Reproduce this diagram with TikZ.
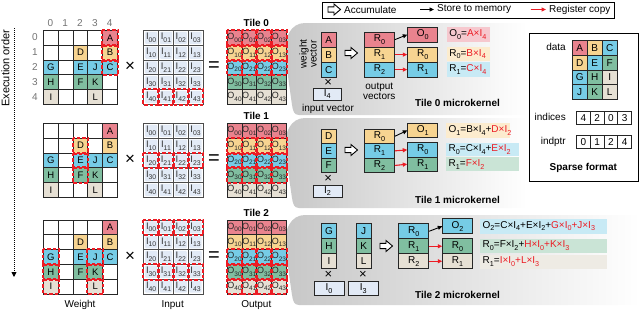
\documentclass[tikz,border=0pt]{standalone}
\usepackage{fontspec}
\usepackage{graphicx}
\setmainfont{Liberation Sans}
\usetikzlibrary{arrows.meta,calc}
\definecolor{cR}{RGB}{233,131,142}
\definecolor{cO}{RGB}{247,212,145}
\definecolor{cB}{RGB}{118,204,230}
\definecolor{cG}{RGB}{128,190,160}
\definecolor{cE}{RGB}{230,224,212}
\definecolor{cI}{RGB}{226,234,246}
\definecolor{lR}{RGB}{246,200,206}
\definecolor{lO}{RGB}{252,236,206}
\definecolor{lB}{RGB}{200,234,245}
\definecolor{lG}{RGB}{202,228,214}
\definecolor{lE}{RGB}{238,235,228}
\definecolor{hlred}{RGB}{236,28,36}
\newcommand{\sbs}[1]{\raisebox{-0.28em}{\scalebox{0.72}{#1}}}
\newcommand{\redt}[1]{\textcolor{hlred}{#1}}
\newcommand{\fsz}[1]{\fontsize{#1}{#1}\selectfont}
\newcommand{\hollowarr}[3]{\coordinate (#1) at (#2,#3);
  \draw[hollow] ($(#1)+(-6,-2.6)$) -- ++(6,0) -- ++(0,-2.9) -- ++(6.5,5.5) -- ++(-6.5,5.5) -- ++(0,-2.9) -- ++(-6,0) -- cycle;}
\tikzset{
 wc/.style={draw=black!85, line width=0.9pt, minimum width=14.8pt, minimum height=14.8pt, inner sep=0pt, anchor=north west, font=\fsz{9.5}},
 ic/.style={wc, fill=white, draw=black!70, font=\fsz{9.5}, text=black!80,
   path picture={\fill[cI, rounded corners=1pt] ([shift={(1.3pt,-1.3pt)}]path picture bounding box.north west) rectangle ([shift={(-1.3pt,1.3pt)}]path picture bounding box.south east);}},
 oc/.style={wc, font=\fsz{9}, text=black!85},
 hlbox/.style={draw=hlred, line width=2pt, dash pattern=on 3.5pt off 2pt},
 vc/.style={draw=black!85, line width=0.9pt, minimum width=15pt, minimum height=15pt, inner sep=0pt, anchor=north west, font=\fsz{10}},
 rc/.style={vc, minimum width=30pt},
 inb/.style={draw=black!85, line width=0.9pt, fill=cI, minimum height=12pt, inner sep=0pt, font=\fsz{10}},
 fmlbox/.style={anchor=north west, minimum height=15pt, inner xsep=2.5pt, inner ysep=0pt, align=left, font=\fsz{10}},
 lbl/.style={font=\fsz{10}, inner sep=0pt},
 ttl/.style={font=\bfseries\fsz{10}, inner sep=0pt},
 storearr/.style={-{Triangle[length=4.5pt,width=4pt]}, line width=0.9pt},
 copyarr/.style={storearr, draw=hlred, fill=hlred, line width=1.1pt},
 hollow/.style={line width=0.9pt, fill=white, draw=black},
 panel/.style={left color=black!22, right color=white},
 bigsym/.style={inner sep=0pt},
}
\begin{document}
\begin{tikzpicture}[x=1pt,y=-1pt]
\useasboundingbox (0,0) rectangle (640,311);
% panels
\shade[panel] (305,23) -- (527,23) -- (527,115) -- (299,115) .. controls (294,115) and (293,111) .. (292,105) -- (285,55) .. controls (284,37) and (291,23) .. (305,23) -- cycle;
\shade[panel] (305,118) -- (527,118) -- (527,208) -- (299,208) .. controls (294,208) and (293,204) .. (292,198) -- (285,150) .. controls (284,132) and (291,118) .. (305,118) -- cycle;
\shade[panel] (305,215) -- (640,215) -- (640,305) -- (299,305) .. controls (294,305) and (293,301) .. (292,295) -- (285,247) .. controls (284,229) and (291,215) .. (305,215) -- cycle;

% execution order
\node[lbl, rotate=90, font=\fsz{11}] (exo) at (5.5,68) {Execution order};
\coordinate (ex0) at (14,28);
\coordinate (ex1) at (14,277);
\draw[line width=0.9pt, dash pattern=on 1pt off 1pt, -{Triangle[length=5pt,width=5pt]}] (ex0) -- (ex1);

% labels tile 0
\foreach \ci in {0,...,4} \node[lbl, text=black!55] (cl\ci) at ({50.4+\ci*14.8},23) {\ci};
\foreach \ri in {0,...,4} \node[lbl, text=black!55] (rl\ri) at (35,{37.4+\ri*14.8}) {\ri};

% matrices
\foreach \ti/\ty in {0/30,1/123,2/219.5}{
  \foreach \ri in {0,...,4}{
    \foreach \ci in {0,...,4}{
      \node[wc] (w\ti-\ri-\ci) at ({43+\ci*14.8},{\ty+\ri*14.8}) {};
    }
    \foreach \ci in {0,...,3}{
      \node[ic] (i\ti-\ri-\ci) at ({143.3+\ci*14.8},{\ty+\ri*14.8}) {I\sbs{\ri\ci}};
    }
  }
  \foreach \ri/\col in {0/cR,1/cO,2/cB,3/cG,4/cE}{
    \foreach \ci in {0,...,3}{
      \node[oc, fill=\col] (o\ti-\ri-\ci) at ({226.7+\ci*14.8},{\ty+\ri*14.8}) {O\sbs{\ri\ci}};
    }
  }
  \foreach \ri/\ci/\col/\lab in {0/4/cR/A,1/2/cO/D,1/4/cO/B,2/0/cB/G,2/2/cB/E,2/3/cB/J,2/4/cB/C,3/0/cG/H,3/2/cG/F,3/3/cG/K,4/0/cE/I,4/3/cE/L}{
    \node[wc, fill=\col] (w\ti-\ri-\ci) at ({43+\ci*14.8},{\ty+\ri*14.8}) {\lab};
  }
  \node[bigsym, font=\fsz{17}] (times\ti) at (130,{\ty+37}) {×};
  \node[bigsym, font=\fsz{20}] (eq\ti) at (214,{\ty+37}) {=};
  \node[ttl] (tile\ti) at (256.3,{\ty-7}) {Tile \ti};
}
% highlights
\foreach \n in {w0-0-4,w0-1-4,w0-2-4,w1-1-2,w1-2-2,w1-3-2,w2-2-0,w2-3-0,w2-4-0,w2-2-3,w2-3-3,w2-4-3}
  \draw[hlbox] (\n.north west) rectangle (\n.south east);
\foreach \ti/\ri in {0/4,1/2,2/0,2/3}
  \foreach \ci in {0,...,3}
    \draw[hlbox] (i\ti-\ri-\ci.north west) rectangle (i\ti-\ri-\ci.south east);
\foreach \ti/\ri in {0/0,0/1,0/2,1/1,1/2,1/3,2/2,2/3,2/4}
  \foreach \ci in {0,...,3}
    \draw[hlbox] (o\ti-\ri-\ci.north west) rectangle (o\ti-\ri-\ci.south east);

\node[lbl] (wl) at (80,305) {Weight};
\node[lbl] (il) at (172.7,305) {Input};
\node[lbl] (ol) at (256.3,305) {Output};

% legend
\node[draw, line width=0.9pt, minimum width=292pt, minimum height=16pt, inner sep=0pt, anchor=north west] (legend) at (322,1.5) {};
\hollowarr{lacc0}{334}{9.5}
\node[lbl, anchor=west] (lacc) at (344,9.5) {Accumulate};
\coordinate (ls0) at (420,9.5);
\coordinate (ls1) at (434,9.5);
\draw[storearr] (ls0) -- (ls1);
\node[lbl, anchor=west] (lst) at (437,9.5) {Store to memory};
\coordinate (lc0) at (530.5,9.5);
\coordinate (lc1) at (546,9.5);
\draw[copyarr] (lc0) -- (lc1);
\node[lbl, anchor=west] (lcp) at (549,9.5) {Register copy};

% ---- panel 0
\node[lbl, rotate=90, align=center] (wv0) at (308,54) {weight\\vector};
\node[vc, fill=cR] (k0a) at (320.7,31.7) {A};
\node[vc, fill=cO] (k0b) at (320.7,46.7) {B};
\node[vc, fill=cB] (k0c) at (320.7,61.7) {C};
\node[bigsym, font=\fsz{13}] (k0x) at (328.2,83) {×};
\node[inb, minimum width=28.7pt] (k0in) at (327.3,94) {I\sbs{4}};
\node[lbl] (k0inl) at (328,108.5) {input vector};
\hollowarr{k0acc}{351}{53}
\node[rc, fill=cR] (k0r0) at (364,31.7) {R\sbs{0}};
\node[rc, fill=cO] (k0r1) at (364,46.7) {R\sbs{1}};
\node[rc, fill=cB] (k0r2) at (364,61.7) {R\sbs{2}};
\node[lbl, align=center] (k0ov) at (379.3,91) {output\\vectors};
\node[rc, fill=cR] (k0o) at (407.3,26.7) {O\sbs{0}};
\node[rc, fill=cO] (k0s0) at (407.3,46.7) {R\sbs{0}};
\node[rc, fill=cB] (k0s1) at (407.3,61.7) {R\sbs{1}};
\draw[storearr] (k0r0.east) -- (k0o.west);
\draw[copyarr] (k0r1.east) -- (k0s0.west);
\draw[copyarr] (k0r2.east) -- (k0s1.west);
\node[fmlbox, fill=lR, text width=37.6pt] (k0f0) at (446.7,26.7) {O\sbs{0}=\redt{A×I\sbs{4}}};
\node[fmlbox, fill=lO, text width=37.6pt, minimum height=14.5pt] (k0f1) at (446.7,46.7) {R\sbs{0}=\redt{B×I\sbs{4}}};
\node[fmlbox, fill=lB, text width=37.6pt, minimum height=14.5pt] (k0f2) at (446.7,62.2) {R\sbs{1}=\redt{C×I\sbs{4}}};
\node[ttl] (k0t) at (457.5,103) {Tile 0 microkernel};

% ---- panel 1
\node[vc, fill=cO, minimum height=14.6pt] (k1a) at (320.7,128.5) {D};
\node[vc, fill=cB, minimum height=14.6pt] (k1b) at (320.7,143.1) {E};
\node[vc, fill=cG, minimum height=14.6pt] (k1c) at (320.7,157.7) {F};
\node[bigsym, font=\fsz{13}] (k1x) at (328.2,179) {×};
\node[inb, minimum width=29pt] (k1in) at (327.5,191) {I\sbs{2}};
\hollowarr{k1acc}{351}{150}
\node[rc, fill=cO, minimum height=14.6pt] (k1r0) at (364,128.5) {R\sbs{0}};
\node[rc, fill=cB, minimum height=14.6pt] (k1r1) at (364,143.1) {R\sbs{1}};
\node[rc, fill=cG, minimum height=14.6pt] (k1r2) at (364,157.7) {R\sbs{2}};
\node[rc, fill=cO, minimum height=14.6pt] (k1o) at (407.3,122.7) {O\sbs{1}};
\node[rc, fill=cB, minimum height=14.3pt] (k1s0) at (407.3,142.3) {R\sbs{0}};
\node[rc, fill=cG, minimum height=14.3pt] (k1s1) at (407.3,156.6) {R\sbs{1}};
\draw[storearr] (k1r0.east) -- (k1o.west);
\draw[copyarr] (k1r1.east) -- (k1s0.west);
\draw[copyarr] (k1r2.east) -- (k1s1.west);
\node[fmlbox, fill=lO, text width=59pt, minimum height=14.6pt] (k1f0) at (446,122.7) {O\sbs{1}=B×I\sbs{4}+\redt{D×I\sbs{2}}};
\node[fmlbox, fill=lB, text width=68pt, minimum height=13.8pt] (k1f1) at (446,142.3) {R\sbs{0}=C×I\sbs{4}+\redt{E×I\sbs{2}}};
\node[fmlbox, fill=lG, text width=68pt, minimum height=14pt] (k1f2) at (446,157.2) {R\sbs{1}=\redt{F×I\sbs{2}}};
\node[ttl] (k1t) at (457.5,200) {Tile 1 microkernel};

% ---- panel 2
\node[vc, fill=cB, minimum height=14.8pt] (k2a) at (321,223.3) {G};
\node[vc, fill=cG, minimum height=14.8pt] (k2b) at (321,238.1) {H};
\node[vc, fill=cE, minimum height=14.8pt] (k2c) at (321,252.9) {I};
\node[vc, fill=cB, minimum height=14.8pt] (k2d) at (355.7,223.3) {J};
\node[vc, fill=cG, minimum height=14.8pt] (k2e) at (355.7,238.1) {K};
\node[vc, fill=cE, minimum height=14.8pt] (k2f) at (355.7,252.9) {L};
\node[bigsym, font=\fsz{13}] (k2x0) at (328.5,275) {×};
\node[bigsym, font=\fsz{13}] (k2x1) at (363,275) {×};
\node[inb, minimum width=30pt, minimum height=14pt] (k2in0) at (329,288.7) {I\sbs{0}};
\node[inb, minimum width=30pt, minimum height=14pt] (k2in1) at (363.3,288.7) {I\sbs{3}};
\hollowarr{k2acc}{386}{246}
\node[rc, fill=cB] (k2r0) at (398.3,223.3) {R\sbs{0}};
\node[rc, fill=cG] (k2r1) at (398.3,238.3) {R\sbs{1}};
\node[rc, fill=cE] (k2r2) at (398.3,253.3) {R\sbs{2}};
\node[rc, fill=cB, minimum width=29.4pt] (k2o) at (442.3,218.3) {O\sbs{2}};
\node[rc, fill=cG, minimum width=29.4pt] (k2s0) at (442.3,238.3) {R\sbs{0}};
\node[rc, fill=cE, minimum width=29.4pt] (k2s1) at (442.3,253.3) {R\sbs{1}};
\draw[storearr] (k2r0.east) -- (k2o.west);
\draw[copyarr] (k2r1.east) -- (k2s0.west);
\draw[copyarr] (k2r2.east) -- (k2s1.west);
\node[fmlbox, fill=lB, text width=121.7pt] (k2f0) at (480,218.3) {O\sbs{2}=C×I\sbs{4}+E×I\sbs{2}+\redt{G×I\sbs{0}+J×I\sbs{3}}};
\node[fmlbox, fill=lG, text width=121.7pt, minimum height=14.7pt] (k2f1) at (480,238.3) {R\sbs{0}=F×I\sbs{2}+\redt{H×I\sbs{0}+K×I\sbs{3}}};
\node[fmlbox, fill=lE, text width=121.7pt, minimum height=14.5pt] (k2f2) at (480,254.5) {R\sbs{1}=\redt{I×I\sbs{0}+L×I\sbs{3}}};
\node[ttl] (k2t) at (457.5,295) {Tile 2 microkernel};

% ---- sparse format
\node[draw, line width=0.9pt, fill=white, minimum width=109.3pt, minimum height=148pt, anchor=north west, inner sep=0pt] (sparse) at (529,32.7) {};
\node[lbl, anchor=east] (dl) at (566,46.7) {data};
\foreach \ri/\ci/\col/\lab in {0/0/cR/A,0/1/cO/B,0/2/cB/C,1/0/cO/D,1/1/cB/E,1/2/cG/F,2/0/cB/G,2/1/cG/H,2/2/cE/I,3/0/cB/J,3/1/cG/K,3/2/cE/L}
  \node[vc, fill=\col, minimum height=14.75pt] (d\ri-\ci) at ({571.7+\ci*15},{40+\ri*14.75}) {\lab};
\node[lbl, anchor=east] (ixl) at (566,117.3) {indices};
\foreach \ii/\v in {0/4,1/2,2/0,3/3}
  \node[vc, fill=white, minimum width=13.75pt, minimum height=13.3pt] (ix\ii) at ({576+\ii*13.75},110.7) {\v};
\node[lbl, anchor=east] (ipl) at (566,141.7) {indptr};
\foreach \ii/\v in {0/0,1/1,2/2,3/4}
  \node[vc, fill=white, minimum width=13.75pt, minimum height=13.3pt] (ip\ii) at ({576+\ii*13.75},135) {\v};
\node[ttl] (sft) at (583.3,168.3) {Sparse format};
\end{tikzpicture}
\end{document}
